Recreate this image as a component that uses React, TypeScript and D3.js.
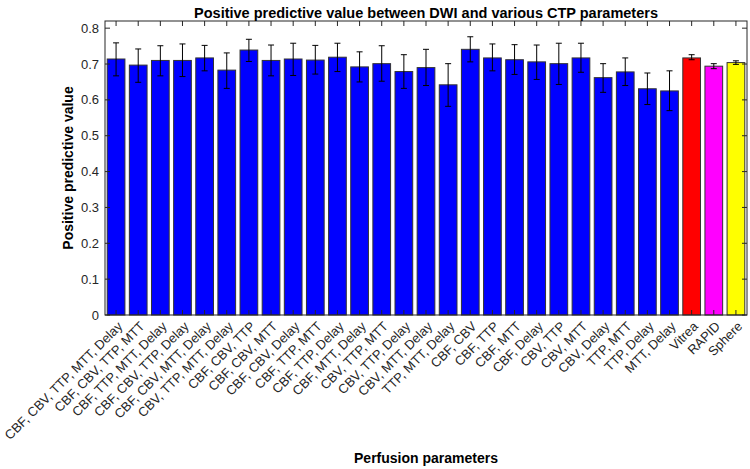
import React from "react";
import * as d3 from "d3";

const categories = [
  "CBF, CBV, TTP, MTT, Delay",
  "CBF, CBV, TTP, MTT",
  "CBF, TTP, MTT, Delay",
  "CBF, CBV, TTP, Delay",
  "CBF, CBV, MTT, Delay",
  "CBV, TTP, MTT, Delay",
  "CBF, CBV, TTP",
  "CBF, CBV, MTT",
  "CBF, CBV, Delay",
  "CBF, TTP, MTT",
  "CBF, TTP, Delay",
  "CBF, MTT, Delay",
  "CBV, TTP, MTT",
  "CBV, TTP, Delay",
  "CBV, MTT, Delay",
  "TTP, MTT, Delay",
  "CBF, CBV",
  "CBF, TTP",
  "CBF, MTT",
  "CBF, Delay",
  "CBV, TTP",
  "CBV, MTT",
  "CBV, Delay",
  "TTP, MTT",
  "TTP, Delay",
  "MTT, Delay",
  "Vitrea",
  "RAPID",
  "Sphere",
];

const values = [
  0.714, 0.697, 0.71, 0.71, 0.717, 0.683, 0.739, 0.71, 0.714, 0.711, 0.719,
  0.692, 0.701, 0.679, 0.69, 0.642, 0.741, 0.717, 0.712, 0.706, 0.701, 0.717,
  0.662, 0.678, 0.631, 0.625, 0.717, 0.694, 0.704,
];

const errHigh = [
  0.759, 0.742, 0.751, 0.756, 0.752, 0.731, 0.769, 0.753, 0.758, 0.752, 0.758,
  0.734, 0.751, 0.726, 0.741, 0.701, 0.776, 0.756, 0.754, 0.753, 0.758, 0.758,
  0.701, 0.717, 0.675, 0.681, 0.726, 0.701, 0.709,
];

const errLow = [
  0.667, 0.649, 0.667, 0.665, 0.681, 0.632, 0.707, 0.667, 0.668, 0.672, 0.679,
  0.65, 0.652, 0.632, 0.64, 0.582, 0.706, 0.681, 0.671, 0.657, 0.643, 0.677,
  0.621, 0.64, 0.587, 0.57, 0.712, 0.687, 0.699,
];

const barColors = [
  ...Array(26).fill("#0000ff"),
  "#ff0000",
  "#ff00ff",
  "#ffff00",
];

const yTicks = [0, 0.1, 0.2, 0.3, 0.4, 0.5, 0.6, 0.7, 0.8];

const W = 750;
const H = 469;
const left = 105;
const right = 747;
const top = 21;
const bottom = 315;
const axisColor = "#262626";
const font = "'Liberation Sans', Arial, Helvetica, sans-serif";

export default function App() {
  const x = d3
    .scaleBand<number>()
    .domain(d3.range(categories.length))
    .range([left, right])
    .paddingInner(0.2)
    .paddingOuter(0.1);
  const step = x.step();
  const bw = step * 0.8;
  const cx = (i: number) => left + step * (i + 0.5);
  const y = d3.scaleLinear().domain([0, 0.82]).range([bottom, top]);
  const tl = 5;

  return (
    <svg
      width={W}
      height={H}
      style={{ position: "absolute", left: 0, top: 0, background: "#fff" }}
      fontFamily={font}
    >
      <rect x={0} y={0} width={W} height={H} fill="#fff" />
      {values.map((v, i) => (
        <rect
          key={"b" + i}
          x={cx(i) - bw / 2}
          y={y(v)}
          width={bw}
          height={y(0) - y(v)}
          fill={barColors[i]}
          stroke="#333"
          strokeWidth={1}
        />
      ))}
      {values.map((v, i) => (
        <g key={"e" + i} stroke="#000" strokeWidth={1}>
          <line x1={cx(i)} x2={cx(i)} y1={y(errLow[i])} y2={y(errHigh[i])} />
          <line x1={cx(i) - 3} x2={cx(i) + 3} y1={y(errLow[i])} y2={y(errLow[i])} />
          <line x1={cx(i) - 3} x2={cx(i) + 3} y1={y(errHigh[i])} y2={y(errHigh[i])} />
        </g>
      ))}
      <rect
        x={left}
        y={top}
        width={right - left}
        height={bottom - top}
        fill="none"
        stroke={axisColor}
        strokeWidth={1}
      />
      {categories.map((c, i) => (
        <g key={"xt" + i} stroke={axisColor} strokeWidth={1}>
          <line x1={cx(i)} x2={cx(i)} y1={bottom} y2={bottom - tl} />
          <line x1={cx(i)} x2={cx(i)} y1={top} y2={top + tl} />
        </g>
      ))}
      {yTicks.map((t) => (
        <g key={"yt" + t}>
          <line x1={left} x2={left + tl} y1={y(t)} y2={y(t)} stroke={axisColor} />
          <line x1={right} x2={right - tl} y1={y(t)} y2={y(t)} stroke={axisColor} />
          <text
            x={left - 6}
            y={y(t)}
            textAnchor="end"
            dominantBaseline="central"
            fontSize={13}
            fill={axisColor}
          >
            {t === 0 ? "0" : t.toFixed(1)}
          </text>
        </g>
      ))}
      {categories.map((c, i) => (
        <text
          key={"xl" + i}
          transform={`translate(${cx(i) + 4},${bottom + 9}) rotate(-45)`}
          textAnchor="end"
          dominantBaseline="central"
          fontSize={13}
          fill={axisColor}
        >
          {c}
        </text>
      ))}
      <text
        x={(left + right) / 2}
        y={13}
        textAnchor="middle"
        dominantBaseline="central"
        fontSize={14.5}
        fontWeight="bold"
        fill="#000"
      >
        Positive predictive value between DWI and various CTP parameters
      </text>
      <text
        transform={`translate(68,${(top + bottom) / 2}) rotate(-90)`}
        textAnchor="middle"
        dominantBaseline="central"
        fontSize={14}
        fontWeight="bold"
        fill="#000"
      >
        Positive predictive value
      </text>
      <text
        x={(left + right) / 2}
        y={458}
        textAnchor="middle"
        dominantBaseline="central"
        fontSize={14}
        fontWeight="bold"
        fill="#000"
      >
        Perfusion parameters
      </text>
    </svg>
  );
}
